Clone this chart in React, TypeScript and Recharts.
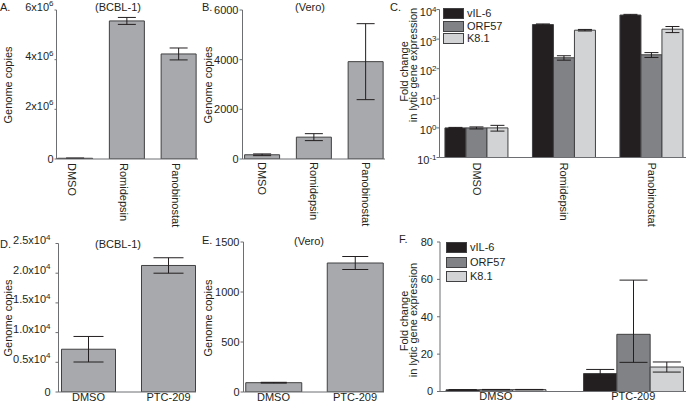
import React from 'react';
import { BarChart, Bar, XAxis, YAxis, ErrorBar, Legend } from 'recharts';

const FONT = '"Liberation Sans", Arial, Helvetica, sans-serif';
const INK = '#231f20';
const AXIS = '#6d6e71';
const OUTLINE = '#414042';
const GREY = '#a7a9ac';
const VIL6 = '#231f20';
const ORF57 = '#808285';
const K81 = '#d1d3d4';

const W = 686;
const H = 403;

// top row: HDAC inhibitors
const drugs = ['DMSO', 'Romidepsin', 'Panobinostat'];
const bcblCopies = [30000, 5560000, 4230000];
const bcblCopiesErr = [10000, 140000, 240000];
const veroCopies = [170, 880, 3920];
const veroCopiesErr = [35, 140, 1530];
const vil6Fold = [1.0, 3100, 6500];
const vil6FoldErr = [0.04, 150, 350];
const orf57Fold = [1.0, 234, 295];
const orf57FoldErr = [0.08, 40, 55];
const k81Fold = [1.0, 2000, 2160];
const k81FoldErr = [0.22, 120, 500];

// bottom row: PTC-209
const ptcGroups = ['DMSO', 'PTC-209'];
const bcblPtc = [7200, 21300];
const bcblPtcErr = [2150, 1300];
const veroPtc = [93, 1290];
const veroPtcErr = [4, 65];
const vil6Ptc = [0.9, 9.6];
const vil6PtcErr = [0.1, 2.2];
const orf57Ptc = [1.0, 30.6];
const orf57PtcErr: (number | number[])[] = [0.1, [15, 29]];
const k81Ptc = [1.0, 13.1];
const k81PtcErr = [0.1, 2.7];

const geneNames = ['vIL-6', 'ORF57', 'K8.1'];

// tick values
const bcblTicks = [0, 2000000, 4000000, 6000000];
const veroTicks = [0, 2000, 4000, 6000];
const foldLogTicks = [0.1, 1, 10, 100, 1000, 10000];
const bcblPtcTicks = [0, 5000, 10000, 15000, 20000, 25000];
const veroPtcTicks = [0, 500, 1000, 1500];
const foldPtcTicks = [0, 20, 40, 60, 80];

const copiesRows = (names: string[], v: number[], e: any[]) =>
  names.map((name, i) => ({ name, value: v[i], err: e[i] }));

const geneRows = (names: string[], a: number[], ae: any[], b: number[], be: any[], c: number[], ce: any[]) =>
  names.map((name, i) => ({ name, vil6: a[i], vil6Err: ae[i], orf57: b[i], orf57Err: be[i], k81: c[i], k81Err: ce[i] }));

const dataA = copiesRows(drugs, bcblCopies, bcblCopiesErr);
const dataB = copiesRows(drugs, veroCopies, veroCopiesErr);
const dataC = geneRows(drugs, vil6Fold, vil6FoldErr, orf57Fold, orf57FoldErr, k81Fold, k81FoldErr);
const dataD = copiesRows(ptcGroups, bcblPtc, bcblPtcErr);
const dataE = copiesRows(ptcGroups, veroPtc, veroPtcErr);
const dataF = geneRows(ptcGroups, vil6Ptc, vil6PtcErr, orf57Ptc, orf57PtcErr, k81Ptc, k81PtcErr);

// y tick with a superscript exponent
function PowTick(props: any) {
  const { x, y, payload, fmt, dy0 } = props;
  const [main, exp] = fmt(payload.value);
  return (
    <text x={x} y={y} dy={exp ? dy0 : 4} textAnchor="end" fill={INK} fontSize={11}>
      {main}
      {exp && <tspan dy={-4.5} fontSize={8}>{exp}</tspan>}
    </text>
  );
}

// x tick rotated to read top-down
function RotTick(props: any) {
  const { x, y, payload, shift } = props;
  const cx = x + shift;
  return (
    <text x={cx} y={y} transform={`rotate(90 ${cx} ${y})`} textAnchor="start" dominantBaseline="central" fill={INK} fontSize={11}>
      {payload.value}
    </text>
  );
}

function GeneLegend(props: any) {
  const { payload, rowH } = props;
  const items = [...(payload || [])].sort((a: any, b: any) => geneNames.indexOf(a.value) - geneNames.indexOf(b.value));
  return (
    <div>
      {items.map((p: any) => (
        <div key={p.value} style={{ display: 'flex', alignItems: 'center', height: rowH }}>
          <span style={{ width: 21, height: 11, boxSizing: 'border-box', background: p.color, border: `1px solid ${OUTLINE}`, marginRight: 3 }} />
          <span style={{ fontSize: 11, color: INK, lineHeight: '11px' }}>{p.value}</span>
        </div>
      ))}
    </div>
  );
}

const bcblFmt = (v: number) => (v === 0 ? ['0'] : [`${v / 1000000}x10`, '6']);
const ptcFmt = (v: number) => (v === 0 ? ['0'] : [`${(v / 10000).toFixed(1)}x10`, '4']);
const logFmt = (v: number) => ['10', String(Math.round(Math.log10(v)))];

const layer: React.CSSProperties = { position: 'absolute', left: 0, top: 0 };

function CopiesChart({ data, axisX, top, base, right, padL, padR, domain, ticks, yTick, xTick, xHeightMargin, barSize, cap, tickSize, tickMargin }: any) {
  return (
    <div style={layer}>
      <BarChart width={W} height={H} data={data} margin={{ top, right: W - right, bottom: 0, left: 0 }}>
        <XAxis
          dataKey="name"
          height={H - base}
          interval={0}
          tickLine={false}
          tickSize={0}
          tickMargin={xHeightMargin}
          axisLine={{ stroke: AXIS }}
          padding={{ left: padL, right: padR }}
          tick={xTick}
        />
        <YAxis
          width={axisX}
          domain={domain}
          ticks={ticks}
          allowDataOverflow
          tickSize={tickSize}
          tickMargin={tickMargin}
          axisLine={{ stroke: AXIS }}
          tickLine={{ stroke: AXIS }}
          tick={yTick}
        />
        <Bar dataKey="value" fill={GREY} stroke={OUTLINE} strokeWidth={1} barSize={barSize} isAnimationActive={false}>
          <ErrorBar dataKey="err" width={cap} stroke={INK} strokeWidth={1} direction="y" isAnimationActive={false} />
        </Bar>
      </BarChart>
    </div>
  );
}

function GeneChart({ data, axisX, top, base, right, padL, padR, domain, ticks, scale, yTick, xTick, xHeightMargin, barSize, cap, tickSize, tickMargin, legendPos, rowH }: any) {
  return (
    <div style={layer}>
      <BarChart width={W} height={H} data={data} margin={{ top, right: W - right, bottom: 0, left: 0 }} barGap={0}>
        <XAxis
          dataKey="name"
          height={H - base}
          interval={0}
          tickLine={false}
          tickSize={0}
          tickMargin={xHeightMargin}
          axisLine={{ stroke: AXIS }}
          padding={{ left: padL, right: padR }}
          tick={xTick}
        />
        <YAxis
          width={axisX}
          scale={scale}
          domain={domain}
          ticks={ticks}
          allowDataOverflow
          tickSize={tickSize}
          tickMargin={tickMargin}
          axisLine={{ stroke: AXIS }}
          tickLine={{ stroke: AXIS }}
          tick={yTick}
        />
        <Legend
          layout="vertical"
          align="center"
          verticalAlign="middle"
          wrapperStyle={{ left: legendPos[0], top: legendPos[1], width: 'auto' }}
          content={(p: any) => <GeneLegend {...p} rowH={rowH} />}
        />
        <Bar name={geneNames[0]} dataKey="vil6" fill={VIL6} stroke={OUTLINE} strokeWidth={1} barSize={barSize} isAnimationActive={false}>
          <ErrorBar dataKey="vil6Err" width={cap} stroke={INK} strokeWidth={1} direction="y" isAnimationActive={false} />
        </Bar>
        <Bar name={geneNames[1]} dataKey="orf57" fill={ORF57} stroke={OUTLINE} strokeWidth={1} barSize={barSize} isAnimationActive={false}>
          <ErrorBar dataKey="orf57Err" width={cap} stroke={INK} strokeWidth={1} direction="y" isAnimationActive={false} />
        </Bar>
        <Bar name={geneNames[2]} dataKey="k81" fill={K81} stroke={OUTLINE} strokeWidth={1} barSize={barSize} isAnimationActive={false}>
          <ErrorBar dataKey="k81Err" width={cap} stroke={INK} strokeWidth={1} direction="y" isAnimationActive={false} />
        </Bar>
      </BarChart>
    </div>
  );
}

const plainTick = { fill: INK, fontSize: 11 };

export default function App() {
  return (
    <div style={{ position: 'absolute', left: 0, top: 0, width: W, height: H, background: '#fff', fontFamily: FONT, fontSize: 11, overflow: 'hidden' }}>
      {/* A */}
      <CopiesChart
        data={dataA} axisX={56.5} top={10} base={159} right={198} padL={-6.9} padR={-6.9}
        domain={[0, 6000000]} ticks={bcblTicks} barSize={35} cap={9} tickSize={2} tickMargin={1}
        yTick={(p: any) => <PowTick x={p.x} y={p.y} payload={p.payload} fmt={bcblFmt} dy0={0.5} />}
        xTick={(p: any) => <RotTick x={p.x} y={p.y} payload={p.payload} shift={-3} />} xHeightMargin={4}
      />
      {/* B */}
      <CopiesChart
        data={dataB} axisX={242.5} top={10} base={159} right={385} padL={-5.9} padR={-6.9}
        domain={[0, 6000]} ticks={veroTicks} barSize={35} cap={9} tickSize={3} tickMargin={1}
        yTick={plainTick}
        xTick={(p: any) => <RotTick x={p.x} y={p.y} payload={p.payload} shift={0} />} xHeightMargin={3}
      />
      {/* C */}
      <GeneChart
        data={dataC} axisX={439.5} top={9.5} base={157.5} right={686} padL={-6.55} padR={-9.45}
        scale="log" domain={[0.1, 10000]} ticks={foldLogTicks} barSize={21} cap={7} tickSize={3} tickMargin={0}
        yTick={(p: any) => <PowTick x={p.x} y={p.y} payload={p.payload} fmt={logFmt} dy0={6.5} />}
        xTick={(p: any) => <RotTick x={p.x} y={p.y} payload={p.payload} shift={0} />} xHeightMargin={5}
        legendPos={[443, 7.5]} rowH={12.5}
      />
      {/* D */}
      <CopiesChart
        data={dataD} axisX={58.5} top={243.5} base={392} right={196} padL={-10} padR={-12.5}
        domain={[0, 25000]} ticks={bcblPtcTicks} barSize={54} cap={15} tickSize={3} tickMargin={5}
        yTick={(p: any) => <PowTick x={p.x} y={p.y} payload={p.payload} fmt={ptcFmt} dy0={0.5} />}
        xTick={plainTick} xHeightMargin={1}
      />
      {/* E */}
      <CopiesChart
        data={dataE} axisX={243.5} top={242} base={392} right={384} padL={-10.75} padR={-11.75}
        domain={[0, 1500]} ticks={veroPtcTicks} barSize={56} cap={13} tickSize={3} tickMargin={1}
        yTick={plainTick}
        xTick={plainTick} xHeightMargin={1}
      />
      {/* F */}
      <GeneChart
        data={dataF} axisX={440} top={242} base={391.5} right={686} padL={-12.95} padR={-16.05}
        scale="linear" domain={[0, 80]} ticks={foldPtcTicks} barSize={33.3} cap={14} tickSize={3} tickMargin={4}
        yTick={plainTick}
        xTick={plainTick} xHeightMargin={1}
        legendPos={[446, 240.5]} rowH={14.5}
      />

      <svg width={W} height={H} style={{ ...layer, pointerEvents: 'none' }} fontFamily={FONT} fontSize={11} fill={INK}>
        <g dominantBaseline="central">
          <text x={0} y={6.5}>A.</text>
          <text x={118} y={7} textAnchor="middle">(BCBL-1)</text>
          <text x={202} y={6.5}>B.</text>
          <text x={310} y={7} textAnchor="middle">(Vero)</text>
          <text x={390} y={6.5}>C.</text>
          <text x={0} y={244}>D.</text>
          <text x={118} y={244} textAnchor="middle">(BCBL-1)</text>
          <text x={202} y={240}>E.</text>
          <text x={309} y={241} textAnchor="middle">(Vero)</text>
          <text x={399} y={238.5}>F.</text>

          <text x={8} y={85} textAnchor="middle" transform="rotate(-90 8 85)">Genome copies</text>
          <text x={208} y={85} textAnchor="middle" transform="rotate(-90 208 85)">Genome copies</text>
          <text x={8} y={318} textAnchor="middle" transform="rotate(-90 8 318)">Genome copies</text>
          <text x={208} y={318} textAnchor="middle" transform="rotate(-90 208 318)">Genome copies</text>

          <text x={404} y={71.5} textAnchor="middle" transform="rotate(-90 404 71.5)">Fold change</text>
          <text x={413} y={65} textAnchor="middle" transform="rotate(-90 413 65)">in lytic gene expression</text>
          <text x={404} y={321} textAnchor="middle" transform="rotate(-90 404 321)">Fold change</text>
          <text x={413} y={320} textAnchor="middle" transform="rotate(-90 413 320)">in lytic gene expression</text>
        </g>
      </svg>
    </div>
  );
}
